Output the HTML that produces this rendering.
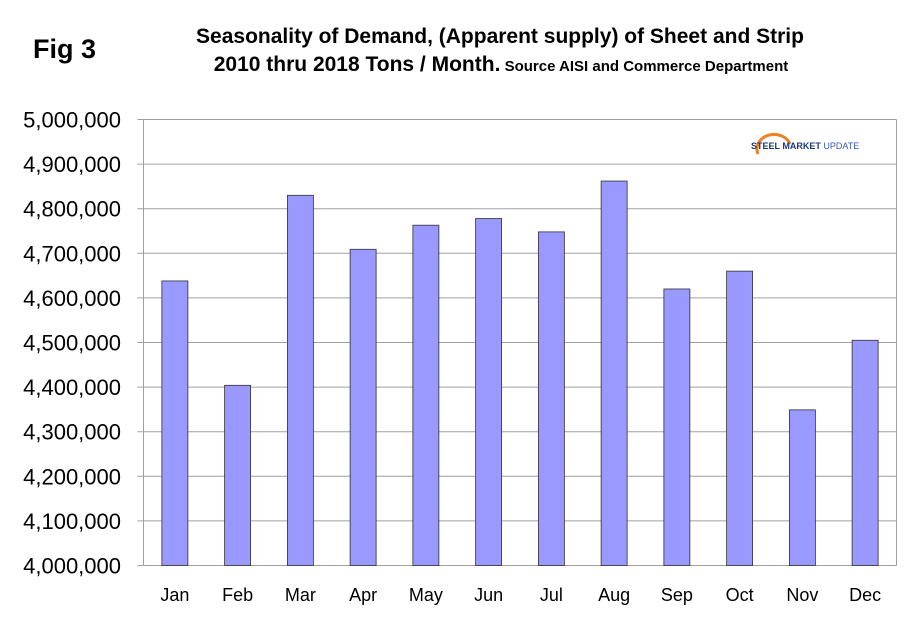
<!DOCTYPE html>
<html><head><meta charset="utf-8"><style>
body{margin:0;background:#fff;}
svg{display:block;font-family:"Liberation Sans",Arial,sans-serif;}
</style></head><body>
<svg id="c" width="910" height="622">
<text x="33" y="58" font-size="27" font-weight="bold">Fig 3</text>
<text x="500" y="43" font-size="21" font-weight="bold" text-anchor="middle">Seasonality of Demand, (Apparent supply) of Sheet and Strip</text>
<text x="501" y="71" font-weight="bold" text-anchor="middle"><tspan font-size="21">2010 thru 2018 Tons / Month.</tspan><tspan font-size="15"> Source AISI and Commerce Department</tspan></text>
<g id="grid"></g><g id="bars"></g><g id="axes"></g>
<g>
<path d="M758 154 A14 12 0 1 1 790 144" fill="none" stroke="#f08020" stroke-width="3"/>
<text x="751" y="149" font-size="9" font-weight="bold" fill="#1a3a7a">STEEL <tspan fill="#1a3a7a">MARKET</tspan> <tspan font-weight="normal" fill="#3a5ab0">UPDATE</tspan></text>
</g>
</svg>
<script>
const categories=["Jan","Feb","Mar","Apr","May","Jun","Jul","Aug","Sep","Oct","Nov","Dec"];
const values=[4638000,4404000,4830000,4709000,4763000,4778000,4748000,4862000,4620000,4660000,4349000,4505000];
const tickValues=[4000000,4100000,4200000,4300000,4400000,4500000,4600000,4700000,4800000,4900000,5000000];
const L=143.5,R=896.5,T=119.5,B=565.5,ymin=4000000,ymax=5000000;
const ns="http://www.w3.org/2000/svg";
function y(v){return B-(v-ymin)/(ymax-ymin)*(B-T);}
function x(i){return L+(i+0.5)*(R-L)/categories.length;}
function mk(t,a,p){const e=document.createElementNS(ns,t);for(const k in a)e.setAttribute(k,a[k]);p.appendChild(e);return e;}
const g=document.getElementById('grid'),bg=document.getElementById('bars'),ax=document.getElementById('axes');
tickValues.forEach(v=>{
 const l=mk('line',{x1:L-6,x2:R,y1:y(v),y2:y(v),stroke:'#a0a0a0','stroke-width':1},g);
 
 
 const t=mk('text',{x:121,y:y(v)+8,'font-size':22,'text-anchor':'end'},ax);
 t.textContent=v.toLocaleString('en-US');
 
 
});
const bw=26;
values.forEach((v,i)=>{
 const r=mk('rect',{x:x(i)-bw/2,y:y(v),width:bw,height:B-y(v),fill:'#9999ff',stroke:'#303030','stroke-width':0.8},bg);
 
 
 const t=mk('text',{x:x(i),y:601,'font-size':18,'text-anchor':'middle'},ax);
 t.textContent=categories[i];
 
 
});
const a=mk('line',{x1:L,x2:L,y1:T,y2:B,stroke:'#a0a0a0','stroke-width':1},ax);


const rb=mk('line',{x1:R,x2:R,y1:T,y2:B,stroke:'#a0a0a0','stroke-width':1},ax);


</script>
</body></html>
